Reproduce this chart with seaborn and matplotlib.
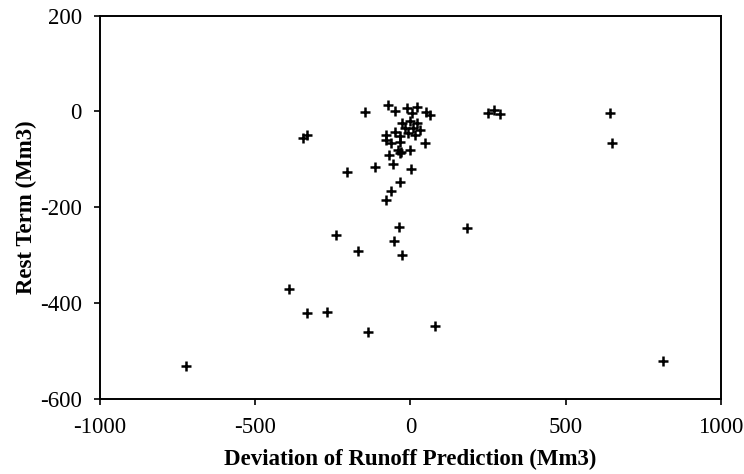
import matplotlib
matplotlib.use("Agg")
import matplotlib.pyplot as plt
import seaborn as sns
import pandas as pd

# Deviation of runoff prediction (Mm3)
deviation = [
    -724, -391, -334, -270, -138, 79, 815,
    -240, -168, -53, -26, -35, 184,
    -78, -62, -33, -204, -115, 3, -56, -68, -34,
    642, 651, 250, 290, 269, -346, -333, -147,
    -71, -48, -12, 22, 4, 52, 63,
    -28, -2, 20, -18, 9, 31,
    -77, -50, -34, -7, 14,
    -77, -61, -34, 46,
    -39, -29, -2,
]
# Rest term (Mm3)
rest_term = [
    -531, -372, -421, -418, -461, -449, -522,
    -259, -291, -271, -300, -242, -243,
    -186, -166, -148, -126, -116, -120, -109, -92, -87,
    -4, -65, -3, -5, 2, -55, -49, -1,
    14, 0, 7, 10, -3, -2, -8,
    -24, -21, -24, -35, -35, -38,
    -49, -44, -52, -45, -49,
    -59, -66, -63, -65,
    -80, -84, -80,
]

x_ticks = [-1000, -500, 0, 500, 1000]
y_ticks = [-600, -400, -200, 0, 200]

df = pd.DataFrame({"Deviation": deviation, "Rest": rest_term})

sns.set_theme(style="white")
plt.rcParams["font.family"] = ["Liberation Serif", "DejaVu Serif"]
plt.rcParams["axes.unicode_minus"] = False
plt.rcParams["text.color"] = "black"
plt.rcParams["axes.labelcolor"] = "black"

fig = plt.figure(figsize=(7.44, 4.74), dpi=100)
ax = fig.add_axes([0.1344, 0.159, 0.9687 - 0.1344, 0.967 - 0.159])

sns.scatterplot(data=df, x="Deviation", y="Rest", marker="+", color="black",
                s=60, linewidth=1.8, ax=ax, legend=False)

ax.set_xlim(-1000, 1000)
ax.set_ylim(-600, 200)
ax.set_xticks(x_ticks)
ax.set_yticks(y_ticks)
ax.set_xticklabels([str(v) for v in x_ticks])
ax.set_yticklabels([str(v) for v in y_ticks])

for s in ax.spines.values():
    s.set_visible(True)
    s.set_color("black")
    s.set_linewidth(1.4)

ax.tick_params(axis="both", which="major", direction="out", length=4,
               width=1.2, colors="black", labelsize=16.5,
               bottom=True, left=True, top=False, right=False)
ax.tick_params(axis="x", pad=9)
ax.tick_params(axis="y", pad=9)

ax.set_xlabel("Deviation of Runoff Prediction (Mm3)", fontsize=16.5,
              fontweight="bold", labelpad=8, color="black")
ax.set_ylabel("Rest Term (Mm3)", fontsize=16.5, fontweight="bold",
              labelpad=2, color="black")
ax.grid(False)

fig.savefig("out.png", dpi=100)
